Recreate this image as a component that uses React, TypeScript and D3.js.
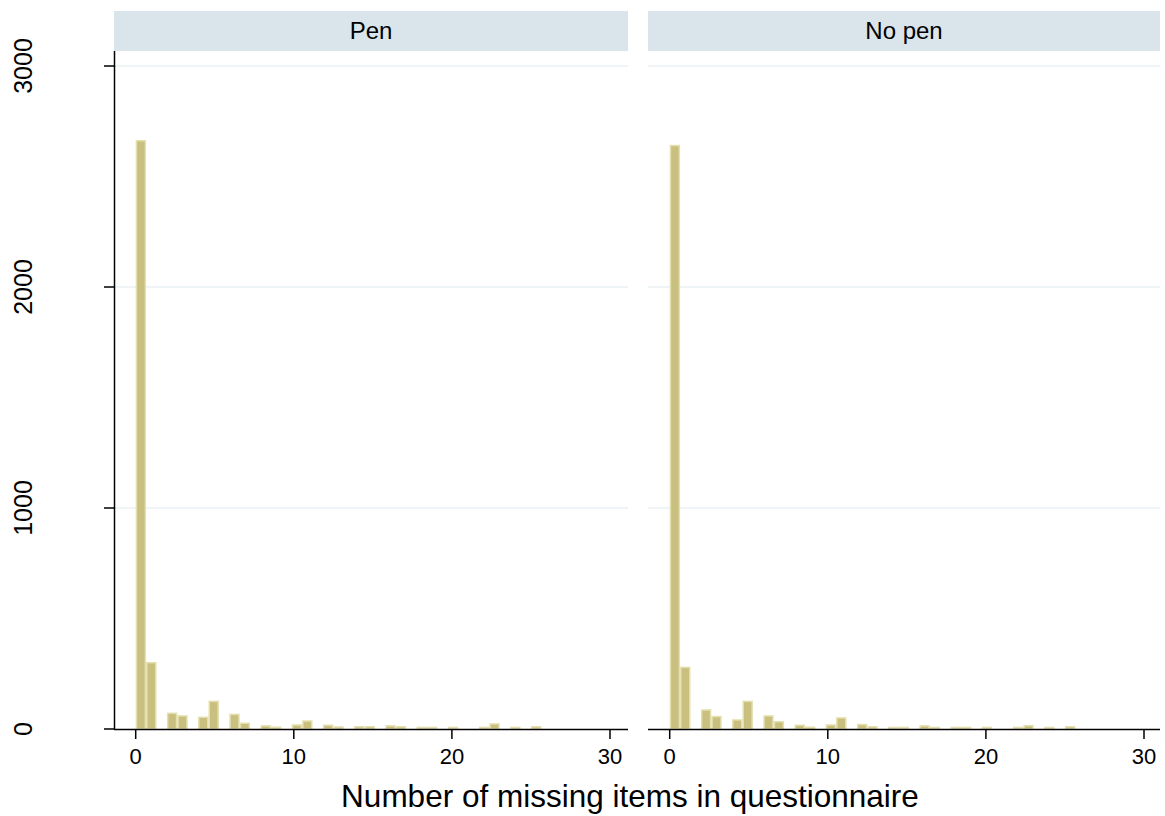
import React from 'react'
import * as d3 from 'd3'

// number of missing items (integer values)
const missingItems = d3.range(0, 26)
const panels = ['Pen', 'No pen']
// frequency per number of missing items
const penCounts = [2662, 300, 71, 59, 53, 125, 66, 26, 14, 8, 18, 36, 17, 9, 10, 10, 14, 10, 7, 7, 7, 0, 7, 23, 7, 10]
const noPenCounts = [2640, 279, 86, 56, 41, 125, 59, 33, 17, 8, 18, 50, 20, 10, 7, 7, 14, 7, 7, 7, 7, 0, 7, 15, 7, 10]
const xTicks = [0, 10, 20, 30]
const yTicks = [0, 1000, 2000, 3000]

const binCount = 38
const binWidth = 25 / binCount

const W = 1165
const H = 816
const plotTop = 51
const plotBottom = 729
const panelBoxes = [
    { left: 114, right: 628 },
    { left: 648, right: 1160 },
]

const barFill = '#c9c07f'
const barStroke = '#e4dfae'
const gridColor = '#eaf0f3'
const stripColor = '#d9e5eb'
const font = '"Liberation Sans", Arial, Helvetica, sans-serif'

const App: React.FC = () => {
    const y = d3.scaleLinear().domain([0, 3000]).range([plotBottom, 66])
    const series = [penCounts, noPenCounts]

    return (
        <svg width={W} height={H} style={{ position: 'absolute', left: 0, top: 0 }} fontFamily={font}>
            <rect width={W} height={H} fill="#fff" />
            {panels.map((name, pi) => {
                const box = panelBoxes[pi]
                const x = d3.scaleLinear().domain([0, 30]).range([box.left + 21.7, box.left + 21.7 + 474.3])
                const counts = series[pi]
                return (
                    <g key={name}>
                        {/* strip header */}
                        <rect x={box.left} y={11} width={box.right - box.left} height={40} fill={stripColor} />
                        <text x={(box.left + box.right) / 2} y={39} textAnchor="middle" fontSize={24} fill="#000">
                            {name}
                        </text>
                        {/* grid */}
                        {yTicks.slice(1).map((t) => (
                            <line key={t} x1={box.left} x2={box.right} y1={y(t)} y2={y(t)} stroke={gridColor} strokeWidth={1.5} />
                        ))}
                        {/* bars */}
                        {missingItems.map((v, i) => {
                            const c = counts[i]
                            if (!c) return null
                            const b = Math.floor(v / binWidth + 1e-9)
                            const x0 = x(b * binWidth)
                            const x1 = x((b + 1) * binWidth)
                            return (
                                <rect
                                    key={v}
                                    x={x0 + 0.75}
                                    y={y(c)}
                                    width={x1 - x0 - 1.5}
                                    height={Math.max(y(0) - y(c), 0.5)}
                                    fill={barFill}
                                    stroke={barStroke}
                                    strokeWidth={1.5}
                                />
                            )
                        })}
                        {/* x axis */}
                        <line x1={box.left} x2={box.right} y1={plotBottom + 0.5} y2={plotBottom + 0.5} stroke="#000" strokeWidth={1.5} />
                        {xTicks.map((t) => (
                            <g key={t}>
                                <line x1={x(t)} x2={x(t)} y1={plotBottom} y2={plotBottom + 10} stroke="#000" strokeWidth={1.5} />
                                <text x={x(t)} y={764} textAnchor="middle" fontSize={22}>
                                    {t}
                                </text>
                            </g>
                        ))}
                    </g>
                )
            })}
            {/* y axis on first panel */}
            <line x1={114.5} x2={114.5} y1={plotTop} y2={plotBottom + 1} stroke="#000" strokeWidth={1.5} />
            {yTicks.map((t) => (
                <g key={t}>
                    <line x1={104} x2={114.5} y1={y(t)} y2={y(t)} stroke="#000" strokeWidth={1.5} />
                    <text transform={`translate(32,${y(t)}) rotate(-90)`} textAnchor="middle" fontSize={25}>
                        {t}
                    </text>
                </g>
            ))}
            <text x={630} y={807} textAnchor="middle" fontSize={31.5}>
                Number of missing items in questionnaire
            </text>
        </svg>
    )
}

export default App
